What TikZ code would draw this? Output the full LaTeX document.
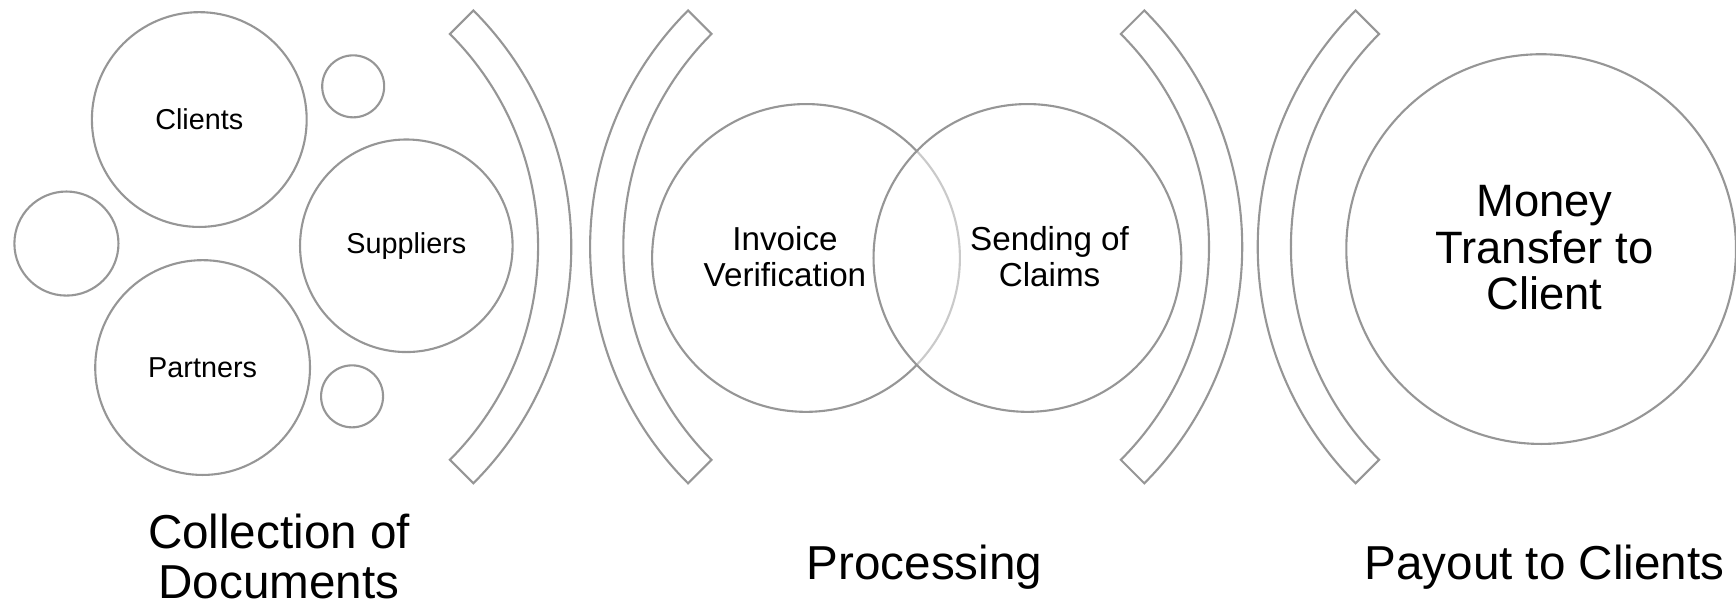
\documentclass[tikz,border=0pt]{standalone}
\usepackage{fontspec}
\setmainfont{Liberation Sans}
\usetikzlibrary{calc}
\definecolor{lc}{RGB}{150,150,150}
\begin{document}
\begin{tikzpicture}[x=0.5pt,y=0.5pt,
  bub/.style={circle,draw=lc,line width=0.95pt,fill=white,inner sep=0pt},
  band/.style={draw=lc,line width=0.95pt,fill=white},
  small/.style={font=\fontsize{13pt}{14pt}\selectfont,align=center},
  mid/.style={font=\fontsize{15pt}{16.2pt}\selectfont,align=center},
  big/.style={font=\fontsize{20.5pt}{21pt}\selectfont,align=center},
  lab/.style={font=\fontsize{21.5pt}{22.5pt}\selectfont,align=center}]
\useasboundingbox (0,0) rectangle (1568,549);
% left group
\node[bub,minimum size=97pt] (clients) at (180,441) {};
\node[bub,minimum size=28pt] (s1) at (319,471) {};
\node[bub,minimum size=47pt] (s0) at (60,329) {};
\node[bub,minimum size=96pt] (suppliers) at (367,327) {};
\node[bub,minimum size=97pt] (partners) at (183,217) {};
\node[bub,minimum size=28pt] (s2) at (318,191) {};
\node[small] (tclients) at (clients) {Clients};
\node[small] (tsuppliers) at (suppliers) {Suppliers};
\node[small] (tpartners) at (partners) {Partners};
% brackets
\coordinate (b1) at (214,326);
\coordinate (b2) at (835,326);
\coordinate (b3) at (820,326);
\coordinate (b4) at (1438,326);
\draw[band] ($(b1)+(-45:151pt)$) arc[start angle=-45,end angle=45,radius=151pt]
  -- ($(b1)+(45:136pt)$) arc[start angle=45,end angle=-45,radius=136pt] -- cycle;
\draw[band] ($(b2)+(135:151pt)$) arc[start angle=135,end angle=225,radius=151pt]
  -- ($(b2)+(225:136pt)$) arc[start angle=225,end angle=135,radius=136pt] -- cycle;
\draw[band] ($(b3)+(-45:151pt)$) arc[start angle=-45,end angle=45,radius=151pt]
  -- ($(b3)+(45:136pt)$) arc[start angle=45,end angle=-45,radius=136pt] -- cycle;
\draw[band] ($(b4)+(135:151pt)$) arc[start angle=135,end angle=225,radius=151pt]
  -- ($(b4)+(225:136pt)$) arc[start angle=225,end angle=135,radius=136pt] -- cycle;
% venn
\node[bub,minimum size=139pt] (invoice) at (728,316) {};
\node[bub,minimum size=139pt,fill opacity=0.5,draw opacity=1] (sending) at (928,316) {};
\node[mid] (tinvoice) at (709,317) {Invoice\\Verification};
\node[mid] (tsending) at (948,317) {Sending of\\Claims};
% money
\node[bub,minimum size=176pt] (money) at (1392,324) {};
\node[big] (tmoney) at (1395,325) {Money\\Transfer to\\Client};
% labels
\node[lab] (l1) at (252,46) {Collection of\\Documents};
\node[lab] (l2) at (835,37) {Processing};
\node[lab] (l3) at (1395,37) {Payout to Clients};
\end{tikzpicture}
\end{document}
